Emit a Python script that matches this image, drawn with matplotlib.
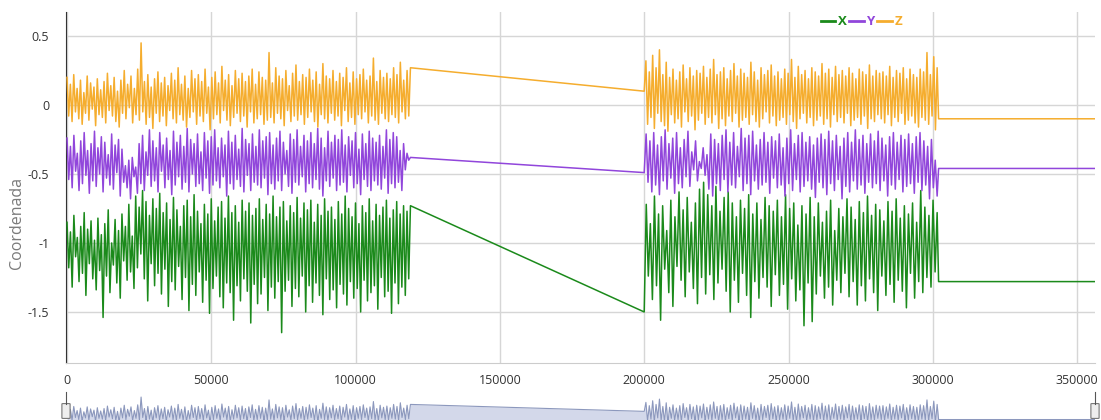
import numpy as np
import matplotlib.pyplot as plt
from matplotlib.lines import Line2D
from matplotlib.patches import FancyBboxPatch

plt.rcParams['font.family'] = ['Open Sans', 'DejaVu Sans']

# Segment limits (sample index)
SEG1 = (0, 119000)
SEG2 = (200000, 301500)
FLAT_START = 302000
FLAT_END = 360000

# Readings in hundredths of a unit
z_seg1 = [20, -8, 15, -12, 22, -5, 12, -10, 18, -14, 9, -6, 21, -11, 16, -3, 13, -15, 19, -7,
          11, -9, 17, -13, 23, -4, 14, -8, 20, -12, 10, -16, 18, -6, 25, -10, 15, -2, 21, -13,
          12, -7, 26, -11, 45, -5, 17, -14, 22, -9, 13, -17, 19, -6, 24, -12, 16, -8, 20, -15,
          14, -4, 23, -10, 18, -13, 27, -7, 15, -11, 21, -16, 12, -9, 25, -5, 19, -14, 22, -8,
          17, -12, 26, -6, 13, -18, 20, -10, 24, -7, 16, -13, 28, -4, 18, -11, 22, -15, 14, -9,
          25, -6, 19, -12, 23, -8, 17, -16, 21, -5, 26, -13, 15, -10, 24, -7, 20, -14, 18, -11,
          38, -9, 16, -13, 27, -6, 21, -10, 19, -15, 25, -4, 14, -12, 23, -8, 29, -11, 17, -7,
          22, -14, 20, -9, 26, -5, 18, -12, 24, -16, 15, -7, 30, -10, 21, -13, 19, -6, 25, -11,
          17, -8, 23, -15, 20, -4, 27, -12, 16, -9, 24, -14, 19, -7, 22, -10, 26, -5, 18, -13,
          21, -8, 34, -11, 17, -14, 25, -6, 20, -10, 23, -12, 19, -7, 27, -9, 22, -13, 31, -5,
          18, -10, 25, -8, 27]
y_seg1 = [-24, -54, -30, -60, -22, -48, -35, -62, -26, -57, -20, -51, -33, -64, -28, -55, -19, -59, -31, -50,
          -23, -63, -27, -53, -36, -58, -21, -61, -29, -49, -25, -66, -32, -56, -44, -60, -40, -68, -38, -52,
          -45, -64, -28, -57, -22, -62, -34, -51, -18, -59, -26, -55, -31, -63, -20, -48, -29, -60, -24, -54,
          -33, -65, -19, -58, -27, -52, -22, -61, -30, -56, -17, -63, -25, -50, -28, -59, -21, -57, -34, -62,
          -20, -53, -26, -64, -23, -58, -18, -55, -31, -60, -24, -52, -29, -66, -19, -57, -27, -61, -22, -54,
          -32, -59, -17, -63, -25, -51, -28, -62, -21, -56, -30, -58, -18, -60, -26, -53, -23, -65, -20, -57,
          -29, -61, -24, -55, -19, -62, -27, -50, -33, -59, -21, -64, -25, -56, -18, -58, -30, -52, -22, -63,
          -26, -57, -20, -60, -28, -54, -17, -61, -24, -66, -31, -55, -19, -59, -27, -53, -22, -62, -25, -58,
          -18, -56, -29, -63, -23, -51, -26, -60, -20, -57, -32, -65, -21, -54, -28, -59, -19, -62, -24, -55,
          -27, -58, -22, -61, -30, -53, -18, -64, -25, -57, -20, -60, -23, -56, -33, -62, -28, -47, -35, -40,
          -38]
x_seg1 = [-85, -118, -92, -132, -80, -110, -96, -128, -88, -122, -78, -138, -90, -115, -84, -126, -98, -134, -82, -120,
          -94, -154, -86, -124, -76, -136, -100, -116, -83, -129, -91, -140, -79, -113, -88, -127, -72, -121, -95, -133,
          -66, -118, -74, -108, -62, -126, -70, -142, -80, -115, -68, -131, -75, -122, -64, -137, -78, -119, -71, -146,
          -83, -128, -67, -134, -76, -117, -88, -141, -73, -125, -69, -149, -81, -130, -65, -138, -77, -121, -86, -143,
          -72, -127, -79, -151, -68, -133, -84, -124, -74, -139, -70, -147, -82, -129, -66, -136, -78, -156, -73, -131,
          -85, -142, -69, -126, -77, -135, -71, -158, -80, -130, -75, -144, -68, -137, -83, -125, -72, -149, -79, -132,
          -66, -140, -81, -128, -74, -165, -70, -135, -84, -127, -73, -146, -78, -133, -67, -139, -82, -124, -71, -150,
          -76, -131, -69, -143, -85, -129, -72, -138, -80, -152, -68, -126, -77, -141, -74, -134, -83, -147, -70, -130,
          -79, -137, -66, -145, -75, -128, -81, -140, -71, -133, -86, -150, -73, -127, -78, -142, -68, -136, -84, -131,
          -72, -148, -80, -125, -74, -139, -69, -135, -82, -151, -76, -129, -70, -144, -79, -132, -73, -138, -77, -126,
          -73]

z_seg2 = [10, 32, -14, 24, -9, 36, -17, 27, -6, 40, -12, 22, -15, 31, -19, 20, -7, 26, -13, 18,
          -10, 24, -16, 29, -5, 19, -12, 27, -8, 21, -18, 25, -11, 23, -6, 28, -14, 20, -9, 26,
          -13, 33, -7, 22, -17, 24, -10, 27, -15, 19, -8, 25, -12, 30, -6, 21, -16, 26, -11, 23,
          -9, 20, -14, 31, -7, 24, -12, 18, -16, 27, -10, 22, -5, 25, -13, 29, -8, 21, -15, 24,
          -11, 19, -9, 26, -14, 23, -7, 33, -12, 20, -17, 28, -10, 22, -6, 25, -13, 19, -9, 27,
          -15, 24, -11, 21, -8, 30, -14, 23, -10, 26, -16, 20, -7, 28, -12, 22, -9, 25, -13, 21,
          -6, 27, -15, 23, -11, 19, -9, 26, -14, 24, -8, 22, -17, 29, -10, 21, -12, 25, -7, 23,
          -10, 24, -13, 21, -7, 28, -15, 20, -9, 25, -12, 23, -6, 27, -14, 19, -11, 26, -8, 22,
          -13, 20, -16, 26, -9, 24, -11, 38, -14, 22, -8, 35, -18, 27]
y_seg2 = [-49, -21, -56, -26, -63, -20, -58, -29, -65, -23, -55, -18, -61, -28, -53, -24, -64, -20, -57, -31,
          -60, -25, -52, -19, -59, -34, -47, -26, -55, -41, -46, -31, -51, -36, -61, -21, -66, -25, -57, -28,
          -62, -22, -54, -18, -63, -27, -58, -20, -60, -30, -52, -17, -62, -24, -57, -22, -65, -19, -55, -29,
          -61, -25, -58, -20, -56, -27, -64, -23, -53, -26, -60, -21, -58, -31, -66, -24, -57, -18, -62, -28,
          -54, -22, -63, -20, -59, -27, -55, -23, -61, -29, -67, -24, -56, -21, -60, -25, -65, -19, -57, -26,
          -62, -22, -54, -30, -68, -24, -59, -20, -63, -27, -55, -18, -61, -25, -58, -22, -64, -28, -56, -21,
          -60, -26, -57, -19, -62, -24, -55, -29, -66, -23, -58, -20, -61, -27, -54, -22, -63, -25, -59, -21,
          -57, -28, -64, -23, -56, -20, -62, -26, -58, -30, -68, -25, -60, -40, -66]
x_seg2 = [-150, -72, -124, -86, -141, -66, -131, -79, -156, -73, -119, -91, -136, -69, -146, -81, -117, -63, -127, -76,
          -139, -67, -121, -85, -133, -71, -144, -61, -125, -56, -137, -65, -123, -73, -141, -59, -129, -77, -119, -67,
          -135, -63, -150, -71, -127, -81, -143, -69, -122, -75, -138, -65, -154, -79, -128, -71, -140, -83, -125, -67,
          -132, -73, -146, -77, -123, -69, -138, -81, -130, -65, -148, -75, -126, -71, -142, -87, -134, -73, -160, -79,
          -129, -67, -157, -81, -137, -71, -124, -85, -140, -77, -132, -69, -145, -91, -127, -75, -136, -81, -122, -68,
          -139, -74, -128, -83, -145, -70, -131, -78, -142, -66, -126, -80, -136, -72, -149, -76, -124, -84, -138, -70,
          -130, -77, -143, -68, -127, -82, -135, -73, -147, -79, -122, -71, -140, -85, -128, -62, -136, -74, -125, -80,
          -132, -69, -121, -78]

# final constant values after the second block
z_tail = -10
y_tail = -46
x_tail = -128

COLORS = {'X': '#1b8a1b', 'Y': '#9146db', 'Z': '#f5ad2e'}


def build_series(seg1, seg2, tail):
    t1 = np.linspace(SEG1[0], SEG1[1], len(seg1))
    t2 = np.linspace(SEG2[0], SEG2[1], len(seg2))
    t = np.concatenate([t1, t2, [FLAT_START, FLAT_END]])
    v = np.concatenate([seg1, seg2, [tail, tail]]) / 100.0
    return t, v


series = {
    'X': build_series(x_seg1, x_seg2, x_tail),
    'Y': build_series(y_seg1, y_seg2, y_tail),
    'Z': build_series(z_seg1, z_seg2, z_tail),
}

W, H = 1101, 420
fig = plt.figure(figsize=(W / 100, H / 100), dpi=100)
ax = fig.add_axes([66 / W, 1 - 363 / H, (1095 - 66) / W, (363 - 12) / H])

for name in ['X', 'Y', 'Z']:
    t, v = series[name]
    ax.plot(t, v, color=COLORS[name], lw=1.1, zorder=3)

ax.set_xlim(-350, 356200)
ax.set_ylim(-1.87, 0.674)
ax.set_xticks([0, 50000, 100000, 150000, 200000, 250000, 300000, 350000])
ax.set_yticks([0.5, 0, -0.5, -1, -1.5])
ax.set_yticklabels(['0.5', '0', '-0.5', '-1', '-1.5'])
ax.grid(True, color='#d6d6d6', lw=1.0, zorder=0)
ax.tick_params(length=0, labelsize=9, colors='#333333', pad=8)
ax.tick_params(axis='y', pad=12)
for s in ['top', 'right']:
    ax.spines[s].set_visible(False)
ax.spines['left'].set_color('#333333')
ax.spines['bottom'].set_color('#cccccc')
ax.set_ylabel('Coordenada', fontsize=11.5, color='#7a7a7a')
ax.yaxis.set_label_coords(-0.040, 0.399)

handles = [Line2D([], [], color=COLORS[n], lw=2) for n in ['X', 'Y', 'Z']]
leg = ax.legend(handles, ['X', 'Y', 'Z'], loc='upper center', bbox_to_anchor=(0.773, 1.024), ncol=3,
                frameon=False, handlelength=1.1, handletextpad=0.2, columnspacing=0.2,
                prop={'weight': 'bold', 'size': 9.5})
for txt, n in zip(leg.get_texts(), ['X', 'Y', 'Z']):
    txt.set_color(COLORS[n])

# navigator strip at the bottom
nav = fig.add_axes([66 / W, 1 - 440 / H, (1095 - 66) / W, 45 / H])
t, v = series['Z']
nav.fill_between(t, v, -0.6, color='#d3d8ea', lw=0)
nav.plot(t, v, color='#8c98bd', lw=0.8)
nav.set_xlim(ax.get_xlim())
nav.set_ylim(-0.6, 0.5)
nav.axis('off')

for hx in [66, 1095]:
    fig.add_artist(Line2D([hx / W, hx / W], [1 - 392 / H, 1 - 404 / H], color='#555555', lw=0.8))
    fig.add_artist(FancyBboxPatch(((hx - 3) / W, 1 - 418 / H), 6 / W, 14 / H,
                                  boxstyle='round,pad=0.001', fc='#eeeeee', ec='#777777', lw=0.8))

fig.savefig('out.png', dpi=100)
